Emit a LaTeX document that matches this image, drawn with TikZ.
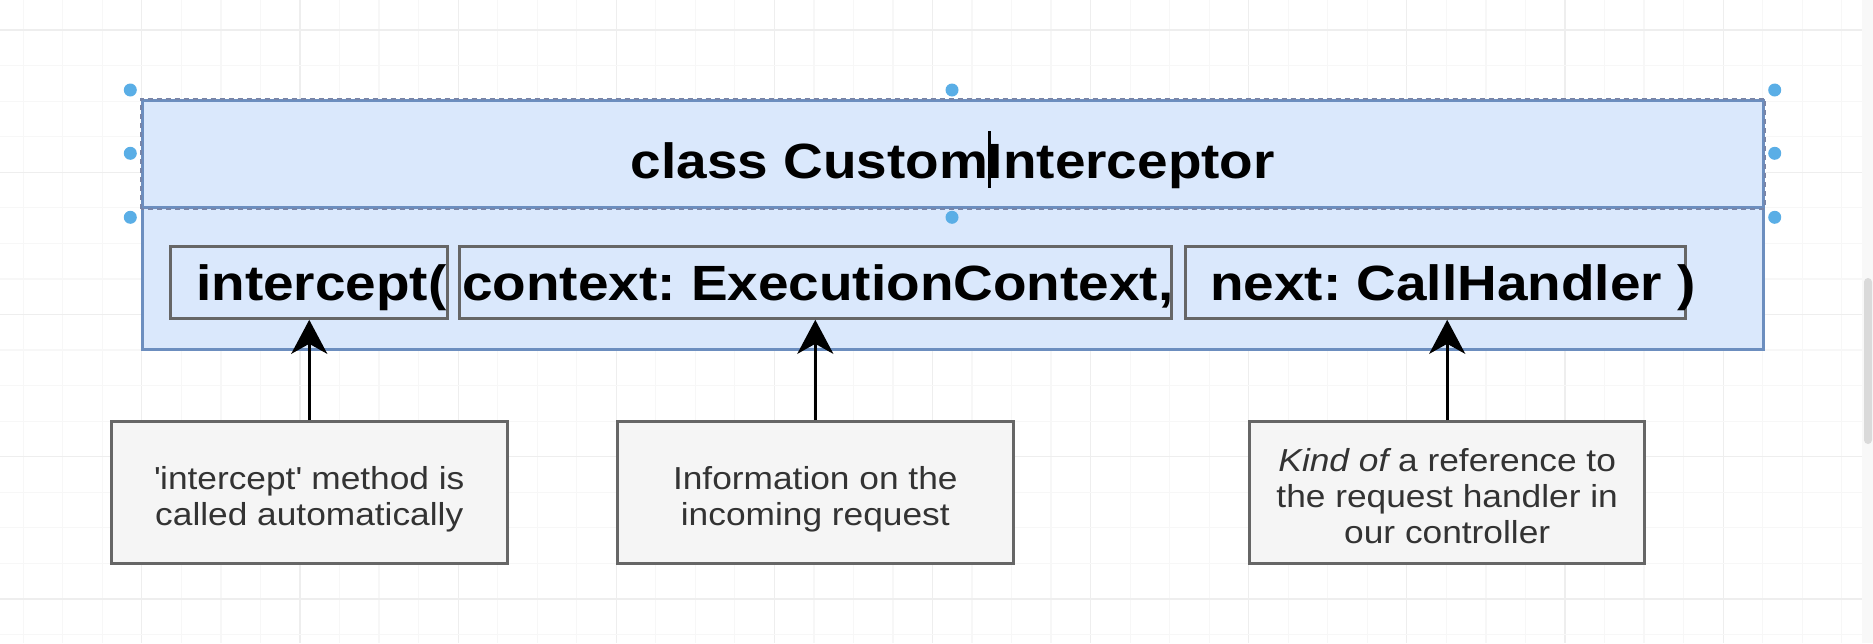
\documentclass[tikz,border=0pt]{standalone}
\usepackage{fontspec}
\setmainfont{Liberation Sans}[FakeStretch=1.11]
\usetikzlibrary{arrows.meta}
\frenchspacing
\definecolor{bluefill}{HTML}{DAE8FC}
\definecolor{bluestroke}{HTML}{6C8EBF}
\definecolor{selstroke}{HTML}{7885A8}
\definecolor{greyfill}{HTML}{F5F5F5}
\definecolor{greystroke}{HTML}{666666}
\definecolor{txtgrey}{HTML}{333333}
\definecolor{handlecol}{HTML}{5AAEE6}
\definecolor{gridminor}{HTML}{F7F7F7}
\definecolor{gridmajor}{HTML}{EEEEEE}
\definecolor{scrollbg}{HTML}{F8F8F8}
\definecolor{scrollthumb}{HTML}{DADADA}
\begin{document}
\begin{tikzpicture}[x=1pt,y=-1pt,
  codebox/.style={draw=greystroke, line width=3pt, inner sep=0pt, minimum width=#1, minimum height=72.3pt},
  codetext/.style={inner sep=0pt, anchor=base west, font=\fontsize{49.5}{59}\selectfont\bfseries, text=black},
  notebox/.style={draw=greystroke, fill=greyfill, line width=3pt, inner sep=0pt, minimum width=395.5pt, minimum height=141.6pt},
  notetext/.style={inner sep=0pt, align=center, text=txtgrey, font=\fontsize{31.8}{35.7}\selectfont},
  arr/.style={line width=3pt, -{Stealth[length=34pt, width=36pt, inset=10pt]}},
  handle/.style={circle, fill=handlecol, inner sep=0pt, minimum size=13pt},
  selection/.style={draw=selstroke, line width=2pt, dash pattern=on 5pt off 4pt}
]
\useasboundingbox (0,0) rectangle (1873,643);
\fill[white] (0,0) rectangle (1873,643);
% grid
\foreach \i in {0,...,46}{
  \pgfmathtruncatemacro{\m}{mod(\i,4)}
  \ifnum\m=3
    \draw[gridmajor, line width=1.2pt] ({23.3+\i*39.53},0) -- ({23.3+\i*39.53},643);
  \else
    \draw[gridminor, line width=1.2pt] ({23.3+\i*39.53},0) -- ({23.3+\i*39.53},643);
  \fi
}
\foreach \j in {0,...,17}{
  \pgfmathtruncatemacro{\m}{mod(\j,4)}
  \ifnum\m=0
    \draw[gridmajor, line width=1.2pt] (0,{30+\j*35.56}) -- (1862,{30+\j*35.56});
  \else
    \draw[gridminor, line width=1.2pt] (0,{30+\j*35.56}) -- (1862,{30+\j*35.56});
  \fi
}
% scrollbar strip
\fill[scrollbg] (1862,0) rectangle (1873,643);
\fill[scrollthumb, rounded corners=4pt] (1864,278) rectangle (1872,444);

% class box
\node[draw=bluestroke, fill=bluefill, line width=3pt, inner sep=0pt, minimum width=1621pt, minimum height=249pt] (cls) at (952.8,224.5) {};
\node[draw=bluestroke, line width=3pt, inner sep=0pt, minimum width=1621pt, minimum height=107.3pt] (hdr) at (952.8,153.65) {};
\draw[selection] (hdr.south west) rectangle (hdr.north east);
\node[inner sep=0pt, anchor=base, font=\fontsize{49.5}{59}\selectfont\bfseries] (title) at (952.8,178) {class CustomInterceptor};
\coordinate (curtop) at (989,131);
\coordinate (curbot) at (989,188);
\draw[line width=3pt] (curtop) -- (curbot);

% selection handles
\node[handle] (h1) at (130.3,90) {};
\node[handle] (h2) at (952,90) {};
\node[handle] (h3) at (1774.7,90) {};
\node[handle] (h4) at (130.3,153.3) {};
\node[handle] (h5) at (1774.7,153.3) {};
\node[handle] (h6) at (130.3,217.3) {};
\node[handle] (h7) at (952,217.3) {};
\node[handle] (h8) at (1774.7,217.3) {};

% code boxes
\node[codebox=277.3pt] (ib1) at (308.65,282.15) {};
\node[codebox=712.7pt] (ib2) at (815.35,282.15) {};
\node[codebox=499.3pt] (ib3) at (1435.35,282.15) {};
\node[codetext] (t1) at (196,300) {intercept(};
\node[codetext] (t2) at (462,300) {context: ExecutionContext,};
\node[codetext] (t3) at (1210,300) {next: CallHandler )};

% note boxes
\node[notebox] (b1) at (309.25,492.5) {};
\node[notebox] (b2) at (815.3,492.5) {};
\node[notebox] (b3) at (1447.2,492.5) {};
\node[notetext] (l1) at (309.25,499.5) {\textquotesingle intercept\textquotesingle{} method is\\called automatically};
\node[notetext] (l2) at (815.3,499.5) {Information on the\\incoming request};
\node[notetext] (l3) at (1447.2,496) {{\itshape Kind of} a reference to\\the request handler in\\our controller};

% arrows
\draw[arr] (b1.north) -- (b1.north |- ib1.south);
\draw[arr] (b2.north) -- (b2.north |- ib2.south);
\draw[arr] (b3.north) -- (b3.north |- ib3.south);
\end{tikzpicture}
\end{document}
